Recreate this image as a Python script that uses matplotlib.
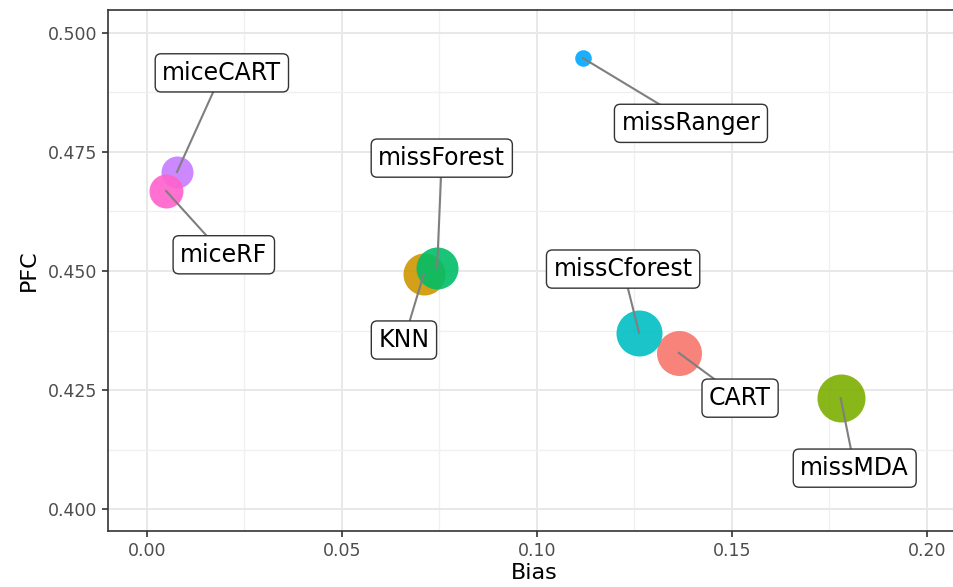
import matplotlib.pyplot as plt
import numpy as np

# imputation methods: bias vs proportion falsely classified
methods = ["CART", "KNN", "missMDA", "missForest", "missCforest",
           "missRanger", "miceCART", "miceRF"]
bias = [0.1364, 0.0710, 0.1779, 0.0744, 0.1262, 0.1118, 0.0077, 0.0049]
pfc = [0.4328, 0.4494, 0.4233, 0.4506, 0.4370, 0.4947, 0.4708, 0.4668]
# point radius (px) for each method
radius = [22.5, 21, 24, 21, 23, 8.3, 16, 17]
# where each repelled label ends up
lab_x = [0.1521, 0.0659, 0.1815, 0.0756, 0.1221, 0.1395, 0.0192, 0.0197]
lab_y = [0.4233, 0.4355, 0.4086, 0.4737, 0.4504, 0.4810, 0.4916, 0.4534]

colors = ["#F8766D", "#CD9600", "#7CAE00", "#00BE67", "#00BFC4",
          "#00A9FF", "#C77CFF", "#FF61CC"]

W, H = 954, 587
fig = plt.figure(figsize=(W / 100, H / 100), dpi=100)
ax = fig.add_axes([108 / W, 1 - 531 / H, (960 - 108) / W, (531 - 10) / H])

ax.set_xlim(-0.0100, 0.2085)
ax.set_ylim(0.3954, 0.5048)

# theme_bw style grid
ax.set_xticks([0.00, 0.05, 0.10, 0.15, 0.20])
ax.set_yticks([0.400, 0.425, 0.450, 0.475, 0.500])
ax.set_xticks([0.025, 0.075, 0.125, 0.175], minor=True)
ax.set_yticks([0.4125, 0.4375, 0.4625, 0.4875], minor=True)
ax.grid(which="major", color="#E8E8E8", linewidth=1.4, zorder=0)
ax.grid(which="minor", color="#F0F0F0", linewidth=1.0, zorder=0)
ax.set_axisbelow(True)
ax.set_xticklabels(["0.00", "0.05", "0.10", "0.15", "0.20"])
ax.set_yticklabels(["0.400", "0.425", "0.450", "0.475", "0.500"])
ax.tick_params(which="major", length=4, width=1.2, color="#333333",
               labelcolor="#4D4D4D", labelsize=12.5, pad=4)
ax.tick_params(which="minor", length=0)
for s in ax.spines.values():
    s.set_color("#333333")
    s.set_linewidth(1.2)
ax.spines["right"].set_visible(False)

sizes = [(2 * r * 72 / 100) ** 2 for r in radius]
for i in range(len(methods)):
    ax.scatter(bias[i], pfc[i], s=sizes[i], color=colors[i], alpha=0.9,
               linewidths=0, zorder=2)
    ax.plot([bias[i], lab_x[i]], [pfc[i], lab_y[i]], color="#7F7F7F",
            linewidth=1.5, zorder=3)
    ax.text(lab_x[i], lab_y[i], methods[i], ha="center", va="center",
            fontsize=17, color="black", zorder=4,
            bbox=dict(boxstyle="round,pad=0.3,rounding_size=0.25",
                      facecolor="white", edgecolor="#333333", linewidth=1.0))

ax.set_xlabel("Bias", fontsize=16, labelpad=2)
ax.set_ylabel("PFC", fontsize=16, labelpad=6)

plt.savefig("out.png", dpi=100)
